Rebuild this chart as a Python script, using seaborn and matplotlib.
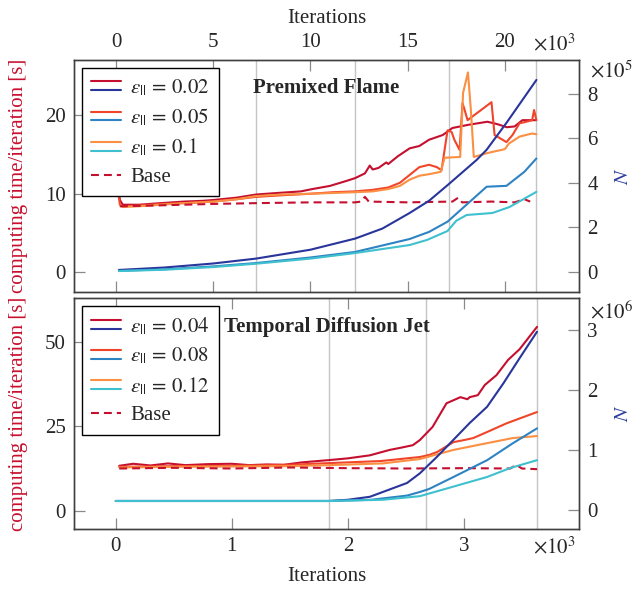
import matplotlib
matplotlib.use("Agg")
import matplotlib.pyplot as plt
from matplotlib.lines import Line2D
from matplotlib.legend_handler import HandlerBase
import seaborn as sns

sns.set_theme(style="ticks")
plt.rcParams["font.family"] = ["Liberation Serif", "DejaVu Serif"]
plt.rcParams["mathtext.fontset"] = "stix"
plt.rcParams["font.size"] = 15

# ---------------- Premixed Flame (iterations in 1e3, N in 1e5) ----------------
flame_x_02 = [0.15, 0.2, 0.35, 1.2, 2.3, 3.5, 4.5, 5.0, 6.2, 7.2, 8.3, 9.5, 10.1, 11.0, 11.8, 12.3,
              12.8, 13.05, 13.2, 13.5, 13.9, 14.0, 14.5, 15.1, 15.6, 16.1, 16.8, 17.3, 18.1, 19.1,
              19.6, 20.1, 20.5, 20.9, 21.6]
flame_t_02 = [10.3, 9.2, 8.6, 8.6, 8.8, 9.0, 9.1, 9.2, 9.5, 9.9, 10.1, 10.3, 10.6, 11.0, 11.6, 12.0,
              12.6, 13.6, 13.1, 13.3, 14.0, 13.8, 14.8, 15.8, 16.1, 16.9, 17.5, 18.4, 18.8, 19.2,
              18.9, 18.5, 18.6, 19.4, 19.4]
flame_x_05 = [0.15, 0.2, 0.35, 1.2, 2.3, 3.5, 5.0, 6.2, 7.2, 8.5, 10.0, 11.2, 12.3, 13.2, 14.0, 14.6,
              15.1, 15.6, 16.1, 16.5, 16.74, 17.05, 17.26, 17.4, 17.67, 17.82, 17.93, 18.08, 19.31,
              19.47, 20.08, 20.39, 20.75, 21.1, 21.4, 21.5, 21.62]
flame_t_05 = [9.6, 8.6, 8.4, 8.5, 8.7, 8.8, 9.0, 9.3, 9.6, 9.8, 10.0, 10.2, 10.3, 10.5, 10.8, 11.4,
              12.4, 13.4, 13.7, 13.4, 13.0, 18.1, 17.9, 16.9, 15.6, 21.6, 20.7, 19.4, 21.7,
              17.5, 16.6, 17.5, 19.0, 19.2, 19.4, 20.7, 19.4]
flame_x_10 = [0.2, 0.35, 1.2, 2.3, 3.5, 5.0, 6.2, 7.2, 8.5, 10.0, 11.2, 12.3, 13.2, 14.0, 14.6, 15.1,
              15.6, 16.1, 16.7, 16.9, 17.7, 17.85, 18.1, 18.25, 18.4, 19.1, 20.0, 20.2, 20.75, 21.4, 21.62]
flame_t_10 = [8.5, 8.3, 8.4, 8.6, 8.8, 9.0, 9.3, 9.7, 9.9, 10.0, 10.1, 10.2, 10.3, 10.6, 11.0, 11.8,
              12.3, 12.5, 12.8, 14.6, 14.7, 22.9, 25.5, 20.7, 14.7, 15.2, 15.7, 16.4, 17.3, 17.7, 17.6]
flame_x_base = [0.2, 2.0, 5.0, 7.2, 10.0, 12.3, 12.6, 12.8, 13.0, 15.0, 17.3, 17.6, 17.8, 19.3, 20.5, 21.0, 21.3]
flame_t_base = [8.4, 8.5, 8.7, 8.8, 8.9, 8.9, 9.0, 9.6, 9.0, 8.9, 9.0, 9.5, 8.9, 9.0, 8.9, 9.3, 9.0]

flame_nx_02 = [0.15, 2.5, 5.0, 7.2, 10.0, 12.3, 13.7, 15.1, 16.1, 17.05, 18.54, 19.05, 20.08, 21.62]
flame_n_02 = [0.09, 0.2, 0.38, 0.6, 1.0, 1.5, 1.95, 2.65, 3.2, 3.9, 5.03, 5.48, 6.7, 8.63]
flame_nx_05 = [0.15, 2.5, 5.0, 7.2, 10.0, 12.3, 15.1, 16.1, 17.05, 19.06, 20.08, 21.0, 21.62]
flame_n_05 = [0.05, 0.12, 0.25, 0.4, 0.65, 0.9, 1.48, 1.8, 2.26, 3.83, 3.87, 4.5, 5.1]
flame_nx_10 = [0.15, 2.5, 5.0, 7.2, 10.0, 12.3, 15.1, 16.0, 17.05, 17.5, 18.03, 19.36, 20.24, 21.62]
flame_n_10 = [0.04, 0.1, 0.22, 0.37, 0.6, 0.85, 1.21, 1.44, 1.84, 2.3, 2.56, 2.65, 2.92, 3.6]
flame_regrid = [7.2, 12.3, 17.1, 21.6]

# ---------------- Temporal Diffusion Jet (iterations in 1e3, N in 1e6) ----------------
jet_x_04 = [0.03, 0.15, 0.3, 0.45, 0.6, 0.8, 1.0, 1.15, 1.3, 1.45, 1.6, 1.84, 2.0, 2.19, 2.36, 2.45,
            2.56, 2.62, 2.73, 2.85, 2.97, 3.03, 3.05, 3.12, 3.18, 3.28, 3.38, 3.48, 3.63]
jet_t_04 = [13.3, 13.9, 13.4, 14.0, 13.5, 13.8, 13.9, 13.5, 13.7, 13.6, 14.3, 15.0, 15.5, 16.4, 18.0, 18.6,
            19.4, 20.9, 24.8, 31.8, 33.6, 33.0, 33.6, 34.2, 37.2, 40.1, 44.6, 47.8, 54.4]
jet_x_08 = [0.03, 0.5, 1.0, 1.5, 1.84, 2.28, 2.62, 2.7, 2.77, 2.91, 3.0, 3.08, 3.2, 3.37, 3.63]
jet_t_08 = [13.0, 13.2, 13.3, 13.6, 14.1, 14.7, 15.9, 16.5, 17.4, 20.3, 20.9, 21.5, 23.3, 25.9, 29.2]
jet_x_12 = [0.03, 0.5, 1.0, 1.5, 1.84, 2.3, 2.62, 2.91, 3.2, 3.42, 3.63]
jet_t_12 = [12.8, 13.0, 13.1, 13.2, 13.5, 14.0, 15.3, 18.0, 20.0, 21.5, 22.1]
jet_x_base = [0.03, 0.5, 1.0, 1.5, 2.0, 2.5, 3.0, 3.4, 3.45, 3.5, 3.63]
jet_t_base = [12.5, 12.7, 12.5, 12.8, 12.6, 12.5, 12.6, 12.5, 13.6, 12.5, 12.3]

jet_nx_04 = [0.0, 1.0, 1.84, 2.0, 2.19, 2.51, 2.62, 2.77, 2.91, 3.05, 3.2, 3.34, 3.48, 3.63]
jet_n_04 = [0.15, 0.15, 0.15, 0.17, 0.22, 0.45, 0.61, 0.89, 1.17, 1.45, 1.72, 2.11, 2.53, 2.97]
jet_nx_08 = [0.0, 1.84, 2.2, 2.51, 2.62, 2.7, 2.91, 3.2, 3.42, 3.63]
jet_n_08 = [0.15, 0.15, 0.17, 0.24, 0.3, 0.35, 0.55, 0.83, 1.11, 1.36]
jet_nx_12 = [0.0, 1.84, 2.3, 2.62, 2.91, 3.2, 3.4, 3.63]
jet_n_12 = [0.15, 0.15, 0.17, 0.23, 0.39, 0.55, 0.7, 0.83]
jet_regrid = [1.84, 2.67, 3.63]

reds = ["#c40f2f", "#f0452a", "#fb8f42"]
blues = ["#29359b", "#2e83c3", "#3fc0cf"]
label_red = "#c8102e"
label_blue = "#2b3d9a"


class TwoLines(HandlerBase):
    # legend sample: time line stacked over N line
    def create_artists(self, legend, handle, xd, yd, w, h, fs, trans):
        out = []
        yc = (h - yd) / 2
        for k, ln in enumerate(handle):
            y = yc + (0.21 - 0.42 * k) * fs
            l2 = Line2D([-xd, w - xd], [y, y], color=ln.get_color(), lw=ln.get_linewidth())
            l2.set_transform(trans)
            out.append(l2)
        return out


def panel(ax, times, counts, base, regrid, labels):
    ax2 = ax.twinx()
    for xv in regrid:
        ax.axvline(xv, color="#c4c4c4", lw=1.0, zorder=0)
    for (xs, ys), c in zip(counts, blues):
        sns.lineplot(x=xs, y=ys, ax=ax2, color=c, lw=1.5, sort=False, estimator=None)
    for (xs, ys), c in zip(times, reds):
        sns.lineplot(x=xs, y=ys, ax=ax, color=c, lw=1.5, sort=False, estimator=None)
    sns.lineplot(x=base[0], y=base[1], ax=ax, color=reds[0], lw=1.5, sort=False,
                 estimator=None, dashes=False).lines[-1].set_dashes((3.8, 2.4))
    for a in (ax, ax2):
        for s in a.spines.values():
            s.set_color("#404040")
            s.set_linewidth(1.0)
    ax.tick_params(axis="both", direction="in", length=8, width=0.9, color="#8a8a8a",
                   labelsize=15, pad=6)
    ax2.tick_params(axis="y", direction="in", length=8, width=0.9, color="#8a8a8a",
                    labelsize=15, pad=6)
    ax.set_ylabel("computing time/iteration [s]", color=label_red, fontsize=15)
    ax.yaxis.set_label_coords(-0.092, 0.5)
    ax2.set_ylabel("$N$", color=label_blue, fontsize=15, rotation=90)
    ax2.yaxis.set_label_coords(1.07, 0.5)
    handles = []
    for r, b in zip(reds, blues):
        handles.append((Line2D([], [], color=r, lw=1.5), Line2D([], [], color=b, lw=1.5)))
    handles.append(Line2D([], [], color=reds[0], lw=1.5, dashes=(3.8, 2.4)))
    leg = ax2.legend(handles, labels, handler_map={tuple: TwoLines()}, loc="upper left",
                     bbox_to_anchor=(0.016, 0.966), borderaxespad=0, fontsize=15,
                     frameon=True, fancybox=False, framealpha=1, edgecolor="black",
                     handlelength=1.4, handletextpad=0.45, labelspacing=0.42, borderpad=0.45)
    leg.get_frame().set_linewidth(1.0)
    return ax2


fig = plt.figure(figsize=(6.35, 5.92), dpi=100)
ax_top = fig.add_axes([0.1165, 0.5068, 0.795, 0.392])
ax_bot = fig.add_axes([0.1165, 0.1064, 0.795, 0.390])

eps = r"$\varepsilon_{||}\,=\,"
t2 = panel(ax_top,
           [(flame_x_02, flame_t_02), (flame_x_05, flame_t_05), (flame_x_10, flame_t_10)],
           [(flame_nx_02, flame_n_02), (flame_nx_05, flame_n_05), (flame_nx_10, flame_n_10)],
           (flame_x_base, flame_t_base), flame_regrid,
           [eps + "0.02$", eps + "0.05$", eps + "0.1$", "Base"])
ax_top.set_xlim(-2.16, 23.8)
ax_top.set_ylim(-2.55, 27.1)
t2.set_ylim(-0.9, 9.53)
ax_top.set_xticks([0, 5, 10, 15, 20])
ax_top.set_yticks([0, 10, 20])
t2.set_yticks([0, 2, 4, 6, 8])
ax_top.tick_params(axis="x", top=True, bottom=True, labeltop=True, labelbottom=False)
ax_top.xaxis.set_label_position("top")
ax_top.set_xlabel("Iterations", fontsize=15)
ax_top.xaxis.set_label_coords(0.5, 1.16)
ax_top.text(0.5, 0.879, "Premixed Flame", transform=ax_top.transAxes, ha="center",
            va="center", fontweight="bold", fontsize=15)
ax_top.text(0.909, 1.065, r"$\times10^{3}$", transform=ax_top.transAxes, ha="left",
            va="center", fontsize=15)
ax_top.text(1.022, 0.948, r"$\times10^{5}$", transform=ax_top.transAxes, ha="left",
            va="center", fontsize=15)

b2 = panel(ax_bot,
           [(jet_x_04, jet_t_04), (jet_x_08, jet_t_08), (jet_x_12, jet_t_12)],
           [(jet_nx_04, jet_n_04), (jet_nx_08, jet_n_08), (jet_nx_12, jet_n_12)],
           (jet_x_base, jet_t_base), jet_regrid,
           [eps + "0.04$", eps + "0.08$", eps + "0.12$", "Base"])
ax_bot.set_xlim(-0.36, 3.99)
ax_bot.set_ylim(-5.4, 62.9)
b2.set_ylim(-0.317, 3.53)
ax_bot.set_xticks([0, 1, 2, 3])
ax_bot.set_yticks([0, 25, 50])
b2.set_yticks([0, 1, 2, 3])
ax_bot.tick_params(axis="x", top=True, bottom=True, labeltop=False, labelbottom=True)
ax_bot.set_xlabel("Iterations", fontsize=15)
ax_bot.xaxis.set_label_coords(0.5, -0.165)
ax_bot.text(0.501, 0.874, "Temporal Diffusion Jet", transform=ax_bot.transAxes, ha="center",
            va="center", fontweight="bold", fontsize=15)
ax_bot.text(0.909, -0.078, r"$\times10^{3}$", transform=ax_bot.transAxes, ha="left",
            va="center", fontsize=15)
ax_bot.text(1.022, 0.939, r"$\times10^{6}$", transform=ax_bot.transAxes, ha="left",
            va="center", fontsize=15)

fig.savefig("out.png", dpi=100)
